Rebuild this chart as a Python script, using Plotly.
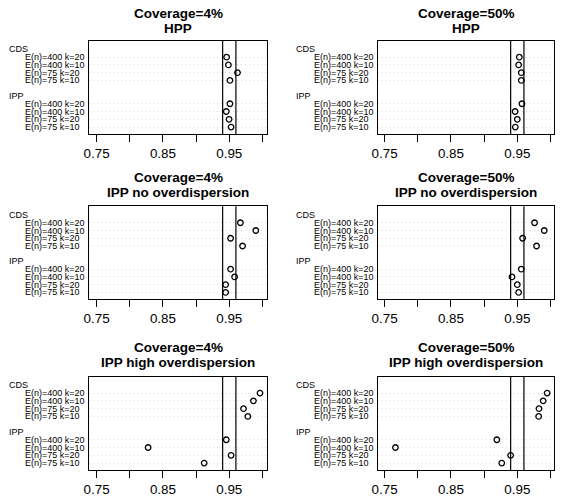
import plotly.graph_objects as go

# ---------------- data ----------------
row_labels = ["E(n)=400 k=20", "E(n)=400 k=10", "E(n)=75 k=20", "E(n)=75 k=10"]
group_labels = ["CDS", "IPP"]

title_cov = ["Coverage=4%", "Coverage=50%"]
title_scen = ["HPP", "IPP no overdispersion", "IPP high overdispersion"]

hpp_4_cds = [0.946, 0.9487, 0.9624, 0.951]
hpp_4_ipp = [0.951, 0.9455, 0.9497, 0.9527]
hpp_50_cds = [0.953, 0.952, 0.956, 0.956]
hpp_50_ipp = [0.957, 0.9467, 0.950, 0.947]

nood_4_cds = [0.9668, 0.990, 0.952, 0.970]
nood_4_ipp = [0.952, 0.958, 0.9445, 0.9445]
nood_50_cds = [0.976, 0.9906, 0.958, 0.979]
nood_50_ipp = [0.956, 0.942, 0.950, 0.952]

high_4_cds = [0.9963, 0.9864, 0.9715, 0.978]
high_4_ipp = [0.9455, 0.8277, 0.9527, 0.9122]
high_50_cds = [0.995, 0.989, 0.9827, 0.9822]
high_50_ipp = [0.9192, 0.7664, 0.940, 0.9266]

ref_lines = [0.94, 0.96]
tick_vals = [0.75, 0.80, 0.85, 0.90, 0.95, 1.00]
tick_text = ["0.75", "", "0.85", "", "0.95", ""]

panels = [
    (0, 0, hpp_4_cds, hpp_4_ipp),
    (0, 1, hpp_50_cds, hpp_50_ipp),
    (1, 0, nood_4_cds, nood_4_ipp),
    (1, 1, nood_50_cds, nood_50_ipp),
    (2, 0, high_4_cds, high_4_ipp),
    (2, 1, high_50_cds, high_50_ipp),
]

# ---------------- layout geometry (pixels) ----------------
W, H = 564, 497
FONT = "Liberation Sans, Arial, Helvetica, sans-serif"
col_box = [(83.3, 263.7), (376.0, 554.0)]
col_range = [(0.739, 1.0075), (0.7406, 1.0055)]
col_group_x = [0.5, 290.3]
col_label_x = [16.7, 309.3]
row_box = [(40.7, 134.3), (206.7, 300.0), (377.3, 471.0)]
row_title_y = [(13.3, 28.3), (178.3, 193.3), (348.3, 363.3)]
y_range = [0.1, 12.13]

# dotchart positions: top group rows 10..7, label 11; bottom group rows 4..1, label 5
cds_y = [10, 9, 8, 7]
ipp_y = [4, 3, 2, 1]
group_y = [11, 5]

fig = go.Figure()
annotations = []
shapes = []
layout = {}

for i, (r, c, cds, ipp) in enumerate(panels):
    n = i + 1
    xa = "xaxis" if n == 1 else f"xaxis{n}"
    ya = "yaxis" if n == 1 else f"yaxis{n}"
    xr = "x" if n == 1 else f"x{n}"
    yr = "y" if n == 1 else f"y{n}"
    x0, x1 = col_box[c]
    t, b = row_box[r]
    layout[xa] = dict(
        domain=[x0 / W, x1 / W], range=list(col_range[c]), anchor=yr,
        tickvals=tick_vals, ticktext=tick_text, ticks="outside", ticklen=7,
        tickwidth=1, tickcolor="black", showgrid=False, zeroline=False,
        showline=True, mirror=True, linecolor="black", linewidth=1,
        tickfont=dict(family=FONT, size=13.4, color="black"),
    )
    layout[ya] = dict(
        domain=[1 - b / H, 1 - t / H], range=y_range, anchor=xr,
        tickvals=cds_y + ipp_y, showticklabels=False, ticks="",
        showgrid=True, gridcolor="#d9d9d9", griddash="1px,3px", gridwidth=1,
        zeroline=False, showline=True, mirror=True, linecolor="black", linewidth=1,
    )
    fig.add_trace(go.Scatter(
        x=cds + ipp, y=cds_y + ipp_y, mode="markers", xaxis=xr, yaxis=yr,
        marker=dict(symbol="circle-open", size=5.5, color="black", line=dict(width=1.3)),
        showlegend=False, hoverinfo="skip",
    ))
    for v in ref_lines:
        shapes.append(dict(type="line", xref=xr, yref=f"{yr} domain", x0=v, x1=v,
                           y0=0, y1=1, line=dict(color="black", width=1.2)))
    # titles
    cx = (x0 + x1) / 2 / W
    for txt, ty in zip([title_cov[c], title_scen[r]], row_title_y[r]):
        annotations.append(dict(text=f"<b>{txt}</b>", xref="paper", yref="paper",
                                x=cx, y=1 - ty / H, xanchor="center", yanchor="middle",
                                showarrow=False, font=dict(family=FONT, size=13.5, color="black")))
    # group labels
    for g, gy in zip(group_labels, group_y):
        annotations.append(dict(text=g, xref="paper", yref=yr, x=col_group_x[c] / W, y=gy,
                                xanchor="left", yanchor="middle", showarrow=False,
                                font=dict(family=FONT, size=9, color="black")))
    # row labels
    for lab_y_list in (cds_y, ipp_y):
        for lab, ly in zip(row_labels, lab_y_list):
            annotations.append(dict(text=lab, xref="paper", yref=yr, x=col_label_x[c] / W, y=ly,
                                    xanchor="left", yanchor="middle", showarrow=False,
                                    font=dict(family=FONT, size=9, color="black")))

fig.update_layout(
    width=W, height=H, autosize=False,
    margin=dict(l=0, r=0, t=0, b=0),
    paper_bgcolor="white", plot_bgcolor="white",
    annotations=annotations, shapes=shapes,
    font=dict(family=FONT, color="black"),
    **layout,
)

fig.write_html("out.html")
